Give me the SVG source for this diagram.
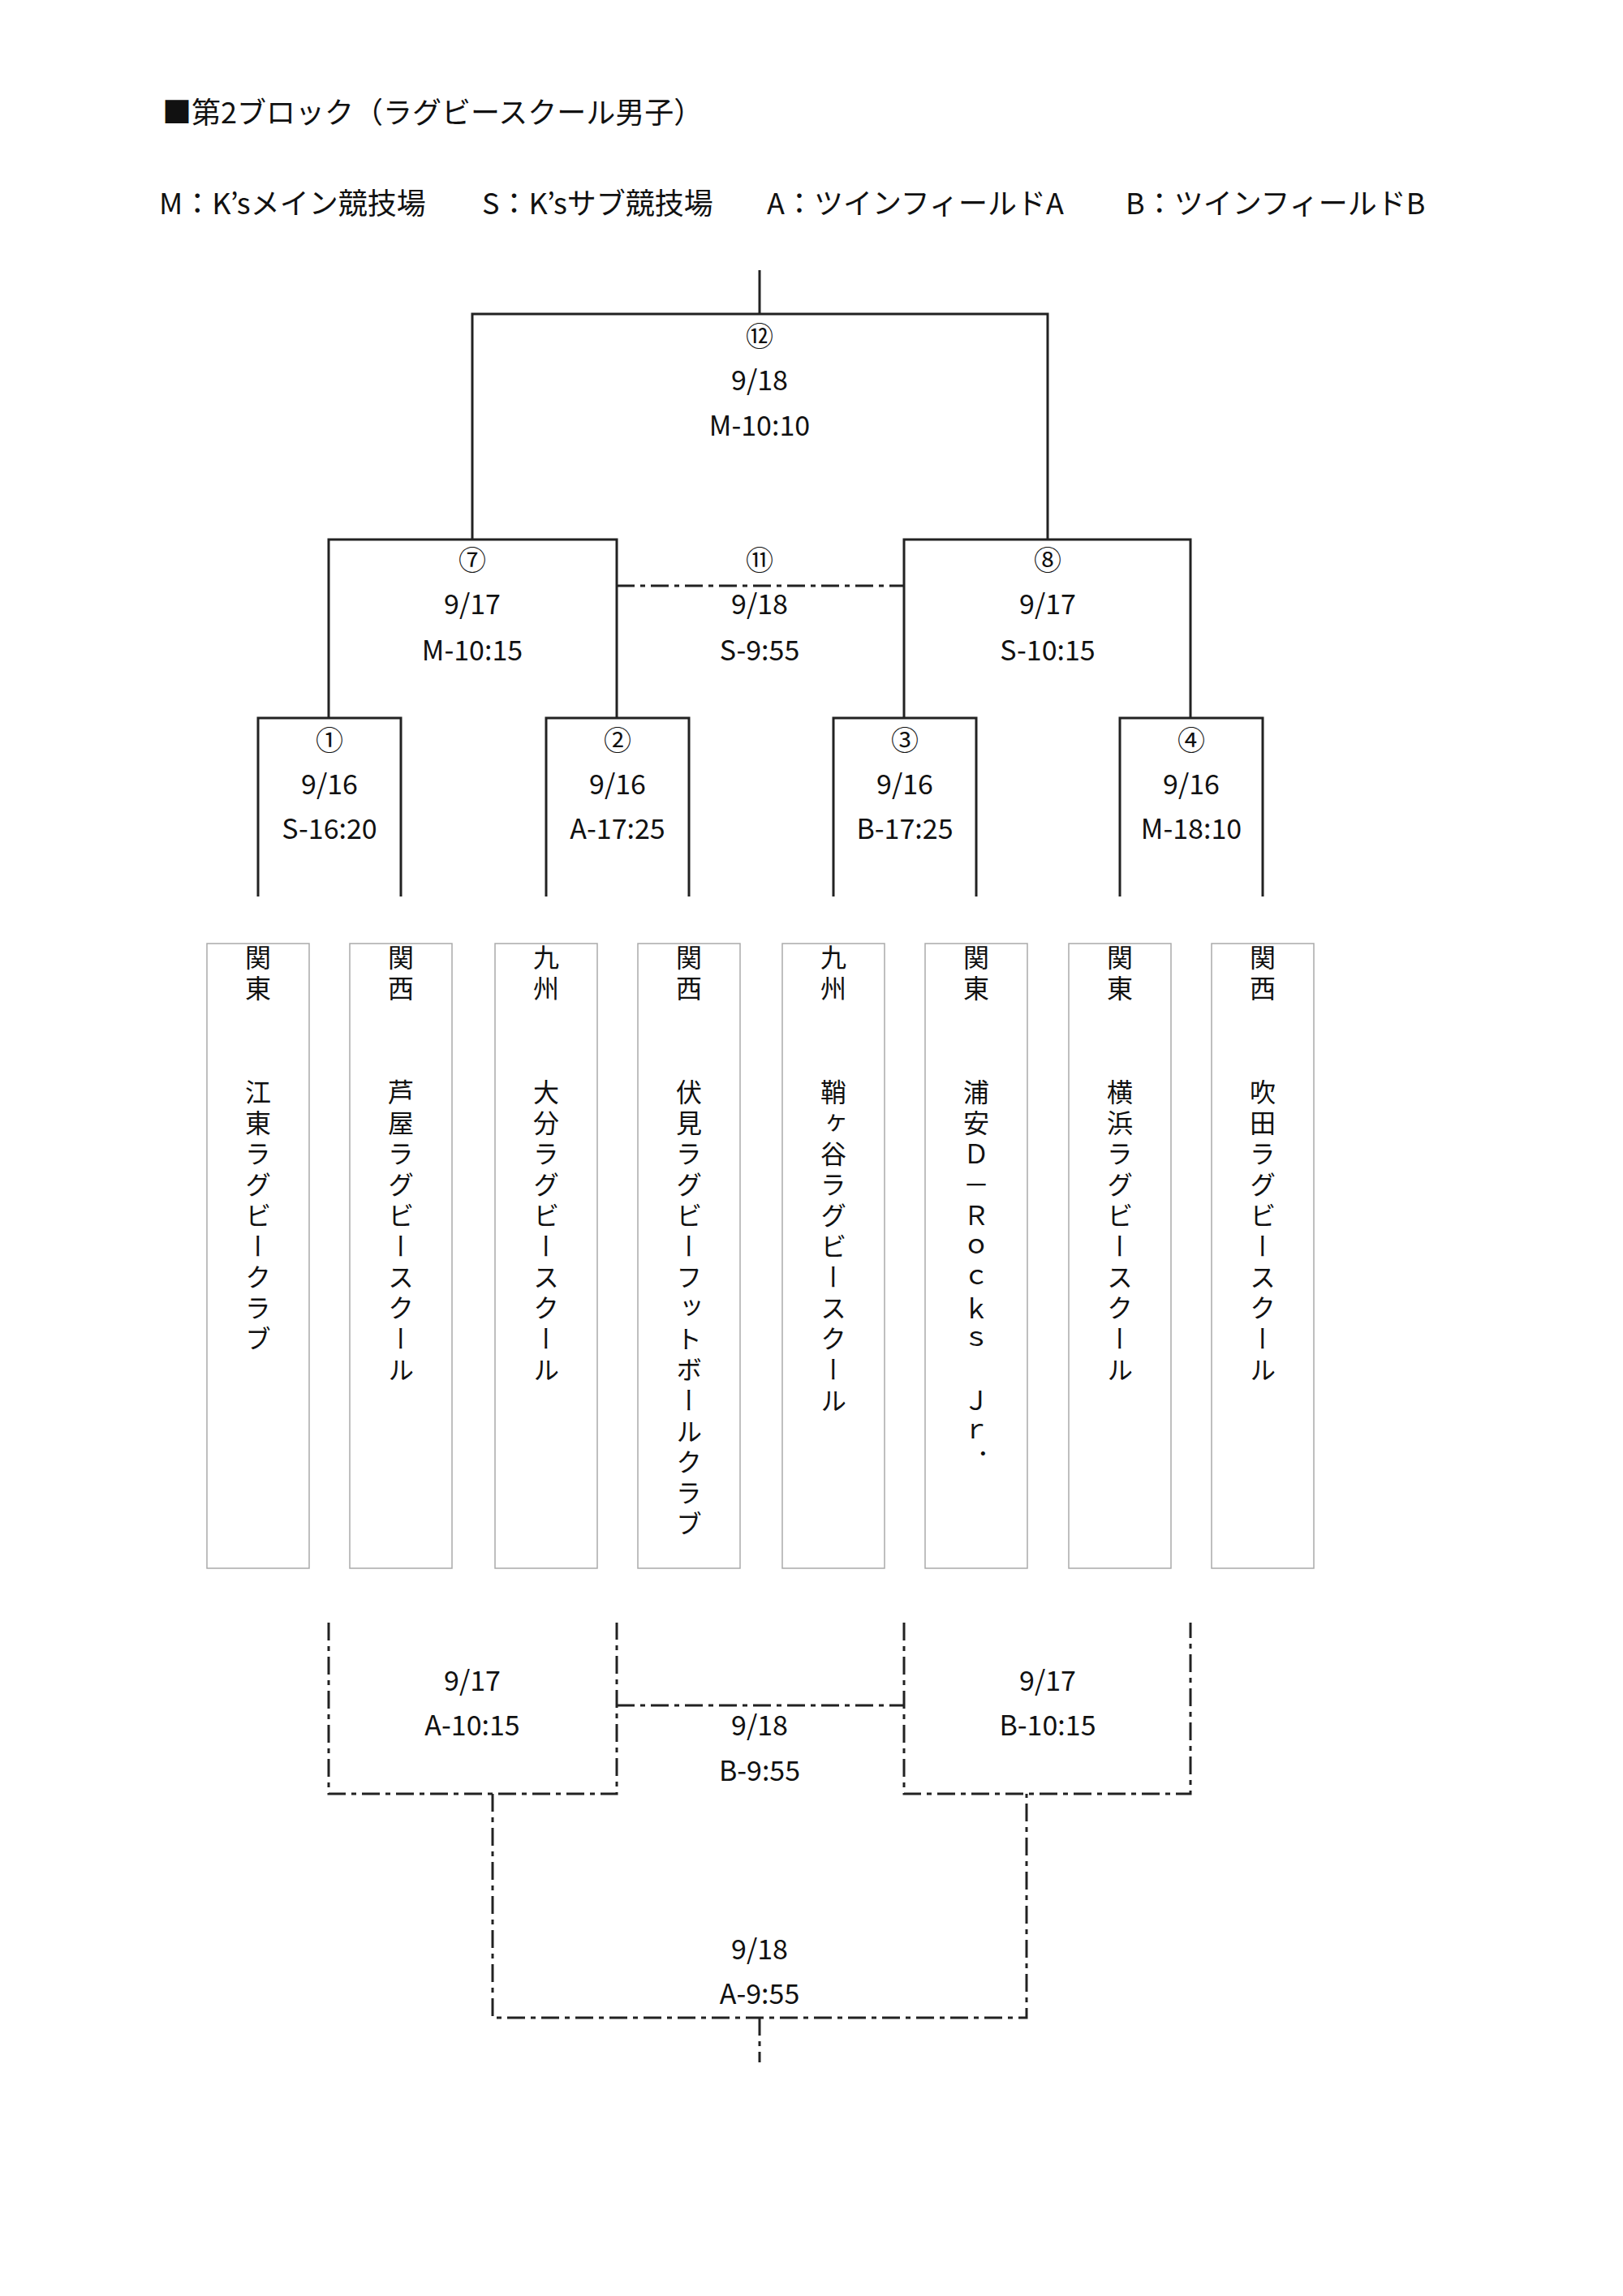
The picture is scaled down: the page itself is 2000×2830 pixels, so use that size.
<svg xmlns="http://www.w3.org/2000/svg" width="2000" height="2830" viewBox="0 0 2000 2830">
<style>
text{font-family:"Noto Sans CJK JP","Liberation Sans",sans-serif;fill:#111}
.t{font-size:34px;text-anchor:middle}
.h{font-size:36px}
.s{fill:none;stroke:#222;stroke-width:3}
.d{fill:none;stroke:#222;stroke-width:3;stroke-dasharray:22 7 6 7}
.box{fill:#fff;stroke:#aaa;stroke-width:1.5}
.v{font-size:32px;writing-mode:tb;text-orientation:upright;letter-spacing:6px}
</style>
<rect width="2000" height="2830" fill="#fff"/>
<text class="h" x="200" y="152">■第2ブロック（ラグビースクール男子）</text>
<text class="h" x="196" y="264">M：K’sメイン競技場</text>
<text class="h" x="594" y="264">S：K’sサブ競技場</text>
<text class="h" x="945" y="264">A：ツインフィールドA</text>
<text class="h" x="1387" y="264">B：ツインフィールドB</text>
<g id="connectors">
<path class="s" d="M936 333V387M582 665V387H1291V665M405 885V665H760V885M1114 885V665H1467V885"/>
<path class="s" d="M318 1105V885H494V1105M673 1105V885H849V1105M1027 1105V885H1203V1105M1380 1105V885H1556V1105"/>
<path class="d" d="M760 722H1114"/>
<path class="d" d="M405 2000V2211H760V2000M1114 2000V2211H1467V2000M760 2102H1114M607 2211V2487H1265V2211M936 2487V2542"/>
</g>
<g id="m12"><text class="t" x="936" y="427">⑫</text><text class="t" x="936" y="481">9/18</text><text class="t" x="936" y="537">M-10:10</text></g>
<g id="m7"><text class="t" x="582" y="703">⑦</text><text class="t" x="582" y="757">9/17</text><text class="t" x="582" y="814">M-10:15</text></g>
<g id="m11"><text class="t" x="936" y="703">⑪</text><text class="t" x="936" y="757">9/18</text><text class="t" x="936" y="814">S-9:55</text></g>
<g id="m8"><text class="t" x="1291" y="703">⑧</text><text class="t" x="1291" y="757">9/17</text><text class="t" x="1291" y="814">S-10:15</text></g>
<g id="m1"><text class="t" x="406" y="925">①</text><text class="t" x="406" y="979">9/16</text><text class="t" x="406" y="1034">S-16:20</text></g>
<g id="m2"><text class="t" x="761" y="925">②</text><text class="t" x="761" y="979">9/16</text><text class="t" x="761" y="1034">A-17:25</text></g>
<g id="m3"><text class="t" x="1115" y="925">③</text><text class="t" x="1115" y="979">9/16</text><text class="t" x="1115" y="1034">B-17:25</text></g>
<g id="m4"><text class="t" x="1468" y="925">④</text><text class="t" x="1468" y="979">9/16</text><text class="t" x="1468" y="1034">M-18:10</text></g>
<g id="c1"><text class="t" x="582" y="2084">9/17</text><text class="t" x="582" y="2139">A-10:15</text></g>
<g id="c2"><text class="t" x="936" y="2139">9/18</text><text class="t" x="936" y="2195">B-9:55</text></g>
<g id="c3"><text class="t" x="1291" y="2084">9/17</text><text class="t" x="1291" y="2139">B-10:15</text></g>
<g id="c4"><text class="t" x="936" y="2415">9/18</text><text class="t" x="936" y="2470">A-9:55</text></g>
<g id="team1"><rect class="box" x="255" y="1163" width="126" height="770"/><text class="v" x="318" y="1164">関東</text><text class="v" x="318" y="1330">江東ラグビークラブ</text></g>
<g id="team2"><rect class="box" x="431" y="1163" width="126" height="770"/><text class="v" x="494" y="1164">関西</text><text class="v" x="494" y="1330">芦屋ラグビースクール</text></g>
<g id="team3"><rect class="box" x="610" y="1163" width="126" height="770"/><text class="v" x="673" y="1164">九州</text><text class="v" x="673" y="1330">大分ラグビースクール</text></g>
<g id="team4"><rect class="box" x="786" y="1163" width="126" height="770"/><text class="v" x="849" y="1164">関西</text><text class="v" x="849" y="1330">伏見ラグビーフットボールクラブ</text></g>
<g id="team5"><rect class="box" x="964" y="1163" width="126" height="770"/><text class="v" x="1027" y="1164">九州</text><text class="v" x="1027" y="1330">鞘ヶ谷ラグビースクール</text></g>
<g id="team6"><rect class="box" x="1140" y="1163" width="126" height="770"/><text class="v" x="1203" y="1164">関東</text><text class="v" x="1203" y="1330">浦安Ｄ－Ｒｏｃｋｓ　Ｊｒ．</text></g>
<g id="team7"><rect class="box" x="1317" y="1163" width="126" height="770"/><text class="v" x="1380" y="1164">関東</text><text class="v" x="1380" y="1330">横浜ラグビースクール</text></g>
<g id="team8"><rect class="box" x="1493" y="1163" width="126" height="770"/><text class="v" x="1556" y="1164">関西</text><text class="v" x="1556" y="1330">吹田ラグビースクール</text></g>
</svg>
